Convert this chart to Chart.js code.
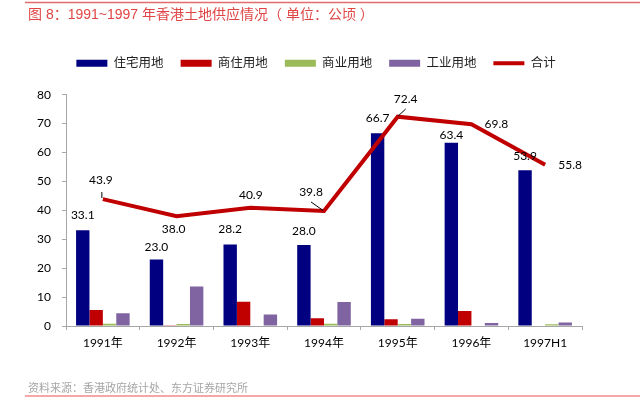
<!DOCTYPE html>
<html>
<head>
<meta charset="utf-8">
<script src="https://cdn.jsdelivr.net/npm/chart.js@4.4.0/dist/chart.umd.min.js"></script>
<style>
html,body{margin:0;padding:0;background:#fff;}
#wrap{width:640px;height:410px;position:relative;}
</style>
</head>
<body>
<div id="wrap"><canvas id="c" width="640" height="410"></canvas></div>
<script>
// ---- data ----
const categories = ['1991年', '1992年', '1993年', '1994年', '1995年', '1996年', '1997H1'];
const residential = [33.1, 23.0, 28.2, 28.0, 66.7, 63.4, 53.9];
const commercialResidential = [5.5, 0.3, 8.4, 2.7, 2.3, 5.2, 0];
const commercial = [0.8, 0.7, 0, 0.8, 0.7, 0.2, 0.6];
const industrial = [4.4, 13.7, 4.0, 8.3, 2.5, 1.0, 1.2];
const total = [43.9, 38.0, 40.9, 39.8, 72.4, 69.8, 55.8];
const yTicks = [0, 10, 20, 30, 40, 50, 60, 70, 80];
const seriesNames = ['住宅用地', '商住用地', '商业用地', '工业用地', '合计'];
const titleText = '图 8：1991~1997 年香港土地供应情况（ 单位：公顷 ）';
const sourceText = '资料来源：香港政府统计处、东方证券研究所';

// ---- label placement (offsets in px, relative to the mark) ----
const barLabelDy = [-15, -12, -15, -14, -15, -8, -14];
const lineLabelOffsets = [[-2, -18.5], [-3, 13], [0.5, -13], [-13, -19], [8, -17.5], [25, 0], [25, 0]];
const lineLeaders = [[-1, -7, -1, -1], null, null, [-13, -9, -1, -0.5], [8, -7.7, 0.5, -0.7], null, null];

const FONT = "Lato, 'Noto Sans CJK SC', sans-serif";
const TITLE_FONT = "'Liberation Sans', 'Noto Sans CJK SC', sans-serif";
Chart.defaults.font.family = FONT;

const legendSpacer = {
  id: 'legendSpacer',
  beforeLayout(chart, args, opts) {
    const lg = chart.legend;
    if (lg && !lg._spaced) {
      const orig = lg.fit;
      lg.fit = function () { orig.call(this); this.height += opts.extra; };
      lg._spaced = true;
    }
  }
};

const valueLabels = {
  id: 'valueLabels',
  afterDatasetsDraw(chart) {
    const ctx = chart.ctx;
    ctx.save();
    ctx.font = '12px ' + FONT;
    ctx.fillStyle = '#000';
    ctx.textAlign = 'center';
    ctx.textBaseline = 'middle';
    chart.getDatasetMeta(0).data.forEach((el, i) => {
      ctx.fillText(residential[i].toFixed(1), el.x, el.y + barLabelDy[i]);
    });
    chart.getDatasetMeta(4).data.forEach((pt, i) => {
      const o = lineLabelOffsets[i];
      ctx.fillText(total[i].toFixed(1), pt.x + o[0], pt.y + o[1]);
      const ld = lineLeaders[i];
      if (ld) {
        ctx.beginPath();
        ctx.moveTo(pt.x + ld[0], pt.y + ld[1]);
        ctx.lineTo(pt.x + ld[2], pt.y + ld[3]);
        ctx.strokeStyle = '#000';
        ctx.lineWidth = 1;
        ctx.stroke();
      }
    });
    ctx.restore();
  }
};

const frameLines = {
  id: 'frameLines',
  afterDraw(chart) {
    const ctx = chart.ctx;
    ctx.save();
    ctx.lineWidth = 1.5;
    ctx.strokeStyle = '#e36b6b';
    ctx.beginPath(); ctx.moveTo(25, 2.5); ctx.lineTo(640, 2.5); ctx.stroke();
    ctx.strokeStyle = '#ef8a8a';
    ctx.beginPath(); ctx.moveTo(25, 396); ctx.lineTo(640, 396); ctx.stroke();
    ctx.restore();
  }
};

const axisColor = '#a6a6a6';

new Chart(document.getElementById('c'), {
  type: 'bar',
  data: {
    labels: categories,
    datasets: [
      { label: seriesNames[0], data: residential, backgroundColor: '#000080', borderWidth: 0, pointStyle: 'rect', yAxisID: 'y' },
      { label: seriesNames[1], data: commercialResidential, backgroundColor: '#c00000', borderWidth: 0, pointStyle: 'rect', yAxisID: 'y' },
      { label: seriesNames[2], data: commercial, backgroundColor: '#9bbb59', borderWidth: 0, pointStyle: 'rect', yAxisID: 'y' },
      { label: seriesNames[3], data: industrial, backgroundColor: '#8064a2', borderWidth: 0, pointStyle: 'rect', yAxisID: 'y' },
      { type: 'line', label: seriesNames[4], data: total, borderColor: '#c00000', backgroundColor: '#c00000',
        borderWidth: 4, pointRadius: 0, pointHoverRadius: 0, pointStyle: 'line', order: -1, yAxisID: 'y',
        borderJoinStyle: 'miter', tension: 0 }
    ]
  },
  options: {
    responsive: false,
    animation: false,
    devicePixelRatio: 1,
    layout: { padding: { left: 28, right: 36, top: 0, bottom: 0 } },
    datasets: { bar: { categoryPercentage: 0.727, barPercentage: 1.0 } },
    plugins: {
      tooltip: { enabled: false },
      title: {
        display: true, text: titleText, align: 'start', color: '#e04545',
        font: { size: 14, weight: 'normal', family: TITLE_FONT },
        padding: { top: 6.6, bottom: 16.6 }
      },
      subtitle: {
        display: true, text: sourceText, position: 'bottom', align: 'start', color: '#a6a6a6',
        font: { size: 11, weight: 'normal', family: FONT },
        padding: { top: 25, bottom: 15.4 }
      },
      legend: {
        position: 'top',
        labels: {
          usePointStyle: true, pointStyleWidth: 31, boxHeight: 7, padding: 17,
          color: '#222', font: { size: 12.5, family: FONT },
          sort: (a, b) => a.datasetIndex - b.datasetIndex
        }
      },
      legendSpacer: { extra: 15.2 }
    },
    scales: {
      x: {
        offset: true,
        grid: { drawOnChartArea: false, drawTicks: true, tickLength: 4, color: axisColor, offset: true },
        border: { color: axisColor, width: 1 },
        ticks: { color: '#000', padding: 6, font: { size: 12, family: FONT } }
      },
      y: {
        position: 'left', min: 0, max: 80,
        afterBuildTicks: s => { s.ticks = yTicks.map(v => ({ value: v })); },
        afterFit: s => { s.width = 38; },
        grid: { drawOnChartArea: false, drawTicks: true, tickLength: 4, color: axisColor },
        border: { color: axisColor, width: 1 },
        ticks: { color: '#000', padding: 11, font: { size: 12, family: FONT } }
      },
      y2: {
        position: 'right', display: true,
        grid: { display: false }, border: { display: false }, ticks: { display: false },
        afterFit: s => { s.width = 22; }
      }
    }
  },
  plugins: [legendSpacer, valueLabels, frameLines]
});
</script>
</body>
</html>
